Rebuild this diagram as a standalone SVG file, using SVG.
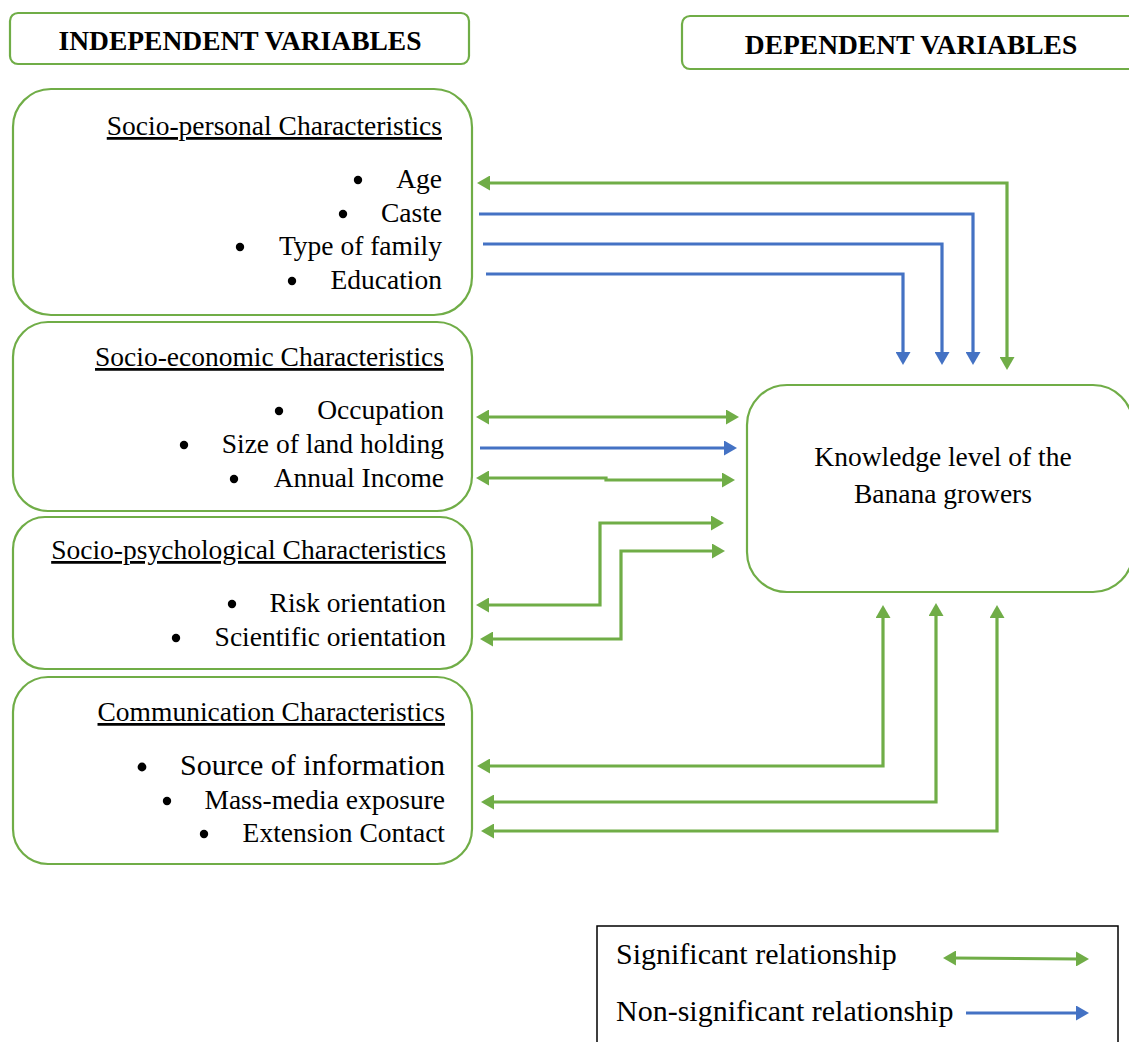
<svg xmlns="http://www.w3.org/2000/svg" width="1129" height="1042" viewBox="0 0 1129 1042">
<style>
.box{fill:#fff;stroke:#70AD47;stroke-width:2.2}
.t{font-family:"Liberation Serif","Times New Roman",serif;font-size:27.5px;fill:#000}
.r{text-anchor:end}
.m{text-anchor:middle}
.h{font-weight:bold}
.u{text-decoration:underline}
.d{fill:#000}
.g{fill:none;stroke:#70AD47;stroke-width:3.2}
.b{fill:none;stroke:#4472C4;stroke-width:3.2}
</style>
<defs>
<marker id="ag" markerUnits="userSpaceOnUse" markerWidth="14" markerHeight="15" viewBox="0 0 14 15" refX="3" refY="7.5" orient="auto-start-reverse"><path d="M0,0 L13,7.5 L0,15 z" fill="#70AD47"/></marker>
<marker id="ab" markerUnits="userSpaceOnUse" markerWidth="14" markerHeight="15" viewBox="0 0 14 15" refX="3" refY="7.5" orient="auto-start-reverse"><path d="M0,0 L13,7.5 L0,15 z" fill="#4472C4"/></marker>
</defs>
<rect width="1129" height="1042" fill="#fff"/>

<g id="independent-header">
<rect class="box" x="10" y="13" width="459" height="51" rx="8"/>
<text class="t h m" x="240" y="50">INDEPENDENT VARIABLES</text>
</g>
<g id="dependent-header">
<rect class="box" x="682" y="16" width="470" height="53" rx="8"/>
<text class="t h m" x="911" y="54">DEPENDENT VARIABLES</text>
</g>

<g id="socio-personal">
<rect class="box" x="13" y="89" width="459" height="226" rx="38"/>
<text class="t r u" x="442" y="135">Socio-personal Characteristics</text>
<circle class="d" cx="358" cy="180" r="4.2"/><text class="t r" x="442" y="188">Age</text>
<circle class="d" cx="343" cy="214" r="4.2"/><text class="t r" x="442" y="222">Caste</text>
<circle class="d" cx="240" cy="247" r="4.2"/><text class="t r" x="442" y="255">Type of family</text>
<circle class="d" cx="292" cy="281" r="4.2"/><text class="t r" x="442" y="289">Education</text>
</g>

<g id="socio-economic">
<rect class="box" x="13" y="322" width="459" height="189" rx="35"/>
<text class="t r u" x="444" y="366">Socio-economic Characteristics</text>
<circle class="d" cx="279" cy="411" r="4.2"/><text class="t r" x="444" y="419">Occupation</text>
<circle class="d" cx="184" cy="445" r="4.2"/><text class="t r" x="444" y="453">Size of land holding</text>
<circle class="d" cx="234" cy="479" r="4.2"/><text class="t r" x="444" y="487">Annual Income</text>
</g>

<g id="socio-psychological">
<rect class="box" x="13" y="517" width="459" height="152" rx="32"/>
<text class="t r u" x="446" y="559">Socio-psychological Characteristics</text>
<circle class="d" cx="232" cy="604" r="4.2"/><text class="t r" x="446" y="612">Risk orientation</text>
<circle class="d" cx="176" cy="638" r="4.2"/><text class="t r" x="446" y="646">Scientific orientation</text>
</g>

<g id="communication">
<rect class="box" x="13" y="677" width="459" height="187" rx="35"/>
<text class="t r u" x="445" y="721">Communication Characteristics</text>
<circle class="d" cx="142" cy="767" r="4.4"/><text class="t r" x="445" y="775" style="font-size:30px">Source of information</text>
<circle class="d" cx="167" cy="801" r="4.2"/><text class="t r" x="445" y="809">Mass-media exposure</text>
<circle class="d" cx="204" cy="834" r="4.2"/><text class="t r" x="445" y="842">Extension Contact</text>
</g>

<g id="knowledge-level">
<rect class="box" x="747" y="385" width="386" height="207" rx="40"/>
<text class="t m" x="943" y="466">Knowledge level of the</text>
<text class="t m" x="943" y="503">Banana growers</text>
</g>

<g id="connectors">
<path class="g" d="M487,183 H1007 V360" marker-start="url(#ag)" marker-end="url(#ag)"/>
<path class="b" d="M479,214 H973 V355" marker-end="url(#ab)"/>
<path class="b" d="M483,244 H942 V355" marker-end="url(#ab)"/>
<path class="b" d="M486,274 H903 V355" marker-end="url(#ab)"/>
<path class="g" d="M486,417 H729" marker-start="url(#ag)" marker-end="url(#ag)"/>
<path class="b" d="M480,448 H727" marker-end="url(#ab)"/>
<path class="g" d="M486,478 H606 V480 H725" marker-start="url(#ag)" marker-end="url(#ag)"/>
<path class="g" d="M486,605 H600 V523 H714" marker-start="url(#ag)" marker-end="url(#ag)"/>
<path class="g" d="M490,639 H621 V551 H715" marker-start="url(#ag)" marker-end="url(#ag)"/>
<path class="g" d="M487,766 H883 V615" marker-start="url(#ag)" marker-end="url(#ag)"/>
<path class="g" d="M491,802 H936 V613" marker-start="url(#ag)" marker-end="url(#ag)"/>
<path class="g" d="M491,831 H997 V615" marker-start="url(#ag)" marker-end="url(#ag)"/>
</g>

<g id="legend">
<rect x="597" y="926" width="521" height="130" fill="#fff" stroke="#000" stroke-width="1.5"/>
<text class="t" x="616" y="964" style="font-size:30px">Significant relationship</text>
<text class="t" x="616" y="1021" style="font-size:30px">Non-significant relationship</text>
<path class="g" d="M953,958 L1079,959" marker-start="url(#ag)" marker-end="url(#ag)"/>
<path class="b" d="M966,1013 H1079" marker-end="url(#ab)"/>
</g>
</svg>
